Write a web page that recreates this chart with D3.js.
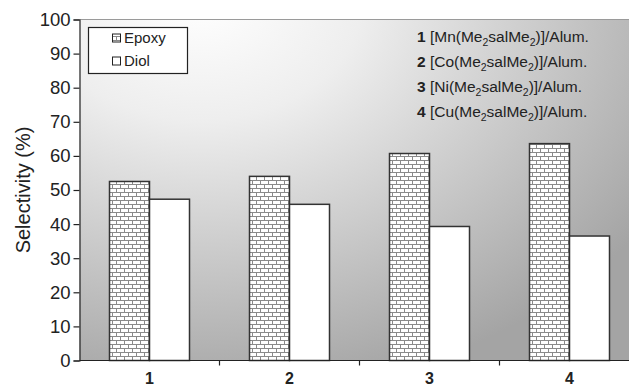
<!DOCTYPE html>
<html><head><meta charset="utf-8">
<script src="https://cdn.jsdelivr.net/npm/d3@7"></script>
<style>body{margin:0;background:#fff}svg{display:block;font-family:"Liberation Sans",Arial,sans-serif}</style>
</head><body><svg id="c" width="629" height="388"></svg>
<script>
const categories = ["1","2","3","4"];
const seriesNames = ["Epoxy","Diol"];
const epoxy = [52.5, 54.0, 60.7, 63.6];
const diol = [47.3, 45.8, 39.3, 36.5];
const yTicks = [0,10,20,30,40,50,60,70,80,90,100];
const notePrefix = ["1","2","3 ","4"];
const noteMetal = ["Mn","Co","Ni","Cu"];

const FONT = '"Liberation Sans",Arial,sans-serif';
const svg = d3.select("#c");
const mLeft = 79.5, mTop = 19.5, mBottom = 360.5, bandW = 140;
const x = d3.scaleBand().domain(categories).range([mLeft, mLeft + bandW*categories.length]).paddingInner(0).paddingOuter(0);
const y = d3.scaleLinear().domain([0,100]).range([mBottom, mTop]);
const barW = 40;

const defs = svg.append("defs");
const rg = defs.append("radialGradient").attr("id","bg").attr("gradientUnits","userSpaceOnUse")
  .attr("cx",0).attr("cy",0).attr("r",1)
  .attr("gradientTransform","translate(200,0) scale(540,400)");
rg.append("stop").attr("offset","0").attr("stop-color","#ffffff");
rg.append("stop").attr("offset","0.3").attr("stop-color","#eeeeee");
rg.append("stop").attr("offset","1").attr("stop-color","#a4a4a4");

const pat = defs.append("pattern").attr("id","brick").attr("patternUnits","userSpaceOnUse")
  .attr("width",8).attr("height",8).attr("x",0).attr("y",0);
pat.append("rect").attr("width",8).attr("height",8).attr("fill","#ffffff");
pat.append("path").attr("d","M0,0.5H8M0,4.5H8M0.5,0.5V4.5M4.5,4.5V8.5")
  .attr("stroke","#8a8a8a").attr("stroke-width",1).attr("fill","none");

// plot background
svg.append("rect").attr("x",mLeft).attr("y",mTop).attr("width",629-mLeft).attr("height",mBottom-mTop).attr("fill","url(#bg)");
svg.append("line").attr("x1",mLeft).attr("x2",629).attr("y1",mTop).attr("y2",mTop).attr("stroke","#9a9a9a").attr("stroke-width",1);

// bars
const g = svg.append("g");
categories.forEach((c,i)=>{
  const cx = x(c) + x.bandwidth()/2;
  g.append("rect").attr("x",cx-barW).attr("y",y(epoxy[i])).attr("width",barW).attr("height",y(0)-y(epoxy[i]))
    .attr("fill","url(#brick)").attr("stroke","#333").attr("stroke-width",1.5);
  g.append("rect").attr("x",cx).attr("y",y(diol[i])).attr("width",barW).attr("height",y(0)-y(diol[i]))
    .attr("fill","#fff").attr("stroke","#333").attr("stroke-width",1.5);
});

// axes
const ya = d3.axisLeft(y).tickValues(yTicks).tickSize(6).tickPadding(3);
const yg = svg.append("g").attr("transform",`translate(${mLeft},0)`).call(ya).attr("font-family",FONT);
yg.select(".domain").attr("stroke","#222").attr("stroke-width",1.2);
yg.selectAll(".tick line").attr("stroke","#222").attr("stroke-width",1.2);
yg.selectAll("text").attr("font-size",18.5).attr("fill","#222");

const xa = d3.axisBottom(x).tickSize(0).tickPadding(12);
const xg = svg.append("g").attr("transform",`translate(0,${mBottom})`).call(xa).attr("font-family",FONT);
xg.select(".domain").remove();
xg.selectAll("text").attr("font-size",16).attr("font-weight","bold").attr("fill","#222");
svg.append("line").attr("x1",mLeft).attr("x2",629).attr("y1",mBottom).attr("y2",mBottom).attr("stroke","#222").attr("stroke-width",1.2);
categories.forEach(c=>{
  svg.append("line").attr("x1",x(c)+bandW).attr("x2",x(c)+bandW).attr("y1",mBottom).attr("y2",mBottom+5).attr("stroke","#222").attr("stroke-width",1.2);
});

// y label
svg.append("text").attr("transform","translate(30,190) rotate(-90)").attr("text-anchor","middle")
  .attr("font-size",20).attr("fill","#222").text("Selectivity (%)");

// legend
svg.append("rect").attr("x",88.5).attr("y",27.5).attr("width",99).attr("height",46).attr("fill","#fff").attr("stroke","#222").attr("stroke-width",1.2);
seriesNames.forEach((s,i)=>{
  const ly = 38 + i*23;
  svg.append("rect").attr("x",112.5).attr("y",ly-4).attr("width",8).attr("height",8)
    .attr("fill", i===0 ? "url(#brick)" : "#fff").attr("stroke","#222").attr("stroke-width",1);
  svg.append("text").attr("x",124).attr("y",ly+5).attr("font-size",15).attr("fill","#222").text(s);
});

// notes
notePrefix.forEach((p,i)=>{
  const t = svg.append("text").attr("x",417).attr("y",42+i*25).attr("font-size",15.5).attr("fill","#222");
  t.append("tspan").attr("font-weight","bold").text(p);
  t.append("tspan").text(" [" + noteMetal[i] + "(Me");
  t.append("tspan").attr("font-size",10.5).attr("dy",4).text("2");
  t.append("tspan").attr("dy",-4).text("salMe");
  t.append("tspan").attr("font-size",10.5).attr("dy",4).text("2");
  t.append("tspan").attr("dy",-4).text(")]/Alum.");
});
</script></body></html>
